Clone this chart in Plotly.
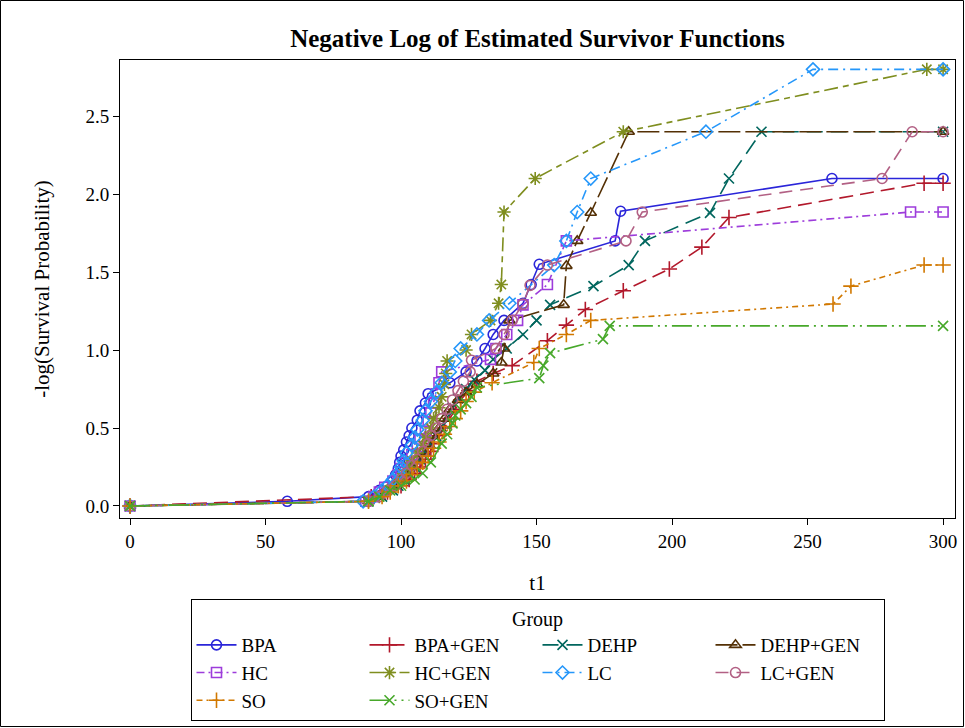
import plotly.graph_objects as go

groups = ["BPA", "BPA+GEN", "DEHP", "DEHP+GEN", "HC", "HC+GEN", "LC", "LC+GEN", "SO", "SO+GEN"]

t_bpa = [0, 58, 88, 92, 95, 97, 98, 99, 99.5, 100, 101, 102, 103, 104, 106, 107, 109, 110, 118, 124, 128, 131, 134, 138, 145, 148, 151, 179, 181, 259, 300]
v_bpa = [0, 0.03, 0.06, 0.10, 0.13, 0.16, 0.20, 0.24, 0.28, 0.32, 0.36, 0.41, 0.45, 0.50, 0.55, 0.61, 0.66, 0.72, 0.79, 0.86, 0.93, 1.01, 1.10, 1.19, 1.30, 1.42, 1.55, 1.70, 1.89, 2.10, 2.10]

t_bpagen = [0, 89, 95, 100, 103, 105, 107, 109, 111, 112, 114, 116, 118, 120, 122, 125, 128, 134, 141, 154, 161, 168, 182, 199, 211, 221, 293, 300]
v_bpagen = [0, 0.06, 0.09, 0.13, 0.17, 0.21, 0.25, 0.30, 0.35, 0.40, 0.45, 0.50, 0.56, 0.62, 0.68, 0.74, 0.80, 0.85, 0.90, 1.06, 1.16, 1.26, 1.38, 1.52, 1.66, 1.85, 2.07, 2.07]

t_dehp = [0, 88, 93, 97, 99, 101, 103, 105, 107, 109, 111, 113, 115, 117, 119, 121, 124, 127, 131, 134, 139, 145, 150, 155, 171, 184, 190, 214, 221, 233, 300]
v_dehp = [0, 0.03, 0.06, 0.10, 0.13, 0.17, 0.21, 0.25, 0.30, 0.35, 0.40, 0.45, 0.51, 0.57, 0.63, 0.69, 0.75, 0.81, 0.87, 0.94, 1.01, 1.10, 1.19, 1.29, 1.41, 1.545, 1.70, 1.88, 2.10, 2.40, 2.40]

t_dehpgen = [0, 88, 92, 95, 98, 100, 102, 104, 106, 108, 110, 112, 114, 116, 118, 121, 124, 128, 134, 137, 138, 140, 160, 161, 165, 170, 184, 300]
v_dehpgen = [0, 0.03, 0.06, 0.10, 0.13, 0.17, 0.21, 0.25, 0.30, 0.35, 0.40, 0.45, 0.50, 0.56, 0.62, 0.68, 0.73, 0.78, 0.85, 0.92, 1.01, 1.19, 1.29, 1.54, 1.70, 1.88, 2.40, 2.40]

t_hc = [0, 87, 90, 92, 94, 97, 99, 100, 102, 104, 106, 107, 109, 110, 111, 112, 113, 114, 115, 133, 135, 139, 143, 145, 154, 161, 288, 300]
v_hc = [0, 0.03, 0.06, 0.09, 0.12, 0.16, 0.20, 0.24, 0.28, 0.33, 0.38, 0.43, 0.48, 0.54, 0.60, 0.66, 0.72, 0.79, 0.86, 0.94, 1.01, 1.10, 1.19, 1.29, 1.42, 1.70, 1.885, 1.885]

t_hcgen = [0, 88, 92, 95, 97, 99, 101, 103, 104, 106, 108, 109, 111, 112, 114, 115, 116, 116.5, 117, 124, 126, 133, 136, 137, 138, 149.5, 182, 294, 300]
v_hcgen = [0, 0.03, 0.06, 0.10, 0.13, 0.17, 0.21, 0.25, 0.29, 0.34, 0.39, 0.44, 0.50, 0.56, 0.63, 0.70, 0.78, 0.85, 0.93, 1.00, 1.10, 1.19, 1.30, 1.42, 1.885, 2.10, 2.40, 2.80, 2.80]

t_lc = [0, 86, 90, 93, 95, 97, 99, 100, 101, 102, 104, 105, 106, 108, 109, 111, 113, 115, 118, 120, 122, 128, 132.5, 140, 156.5, 161, 165, 170, 212.5, 252, 300]
v_lc = [0, 0.03, 0.06, 0.10, 0.13, 0.17, 0.21, 0.25, 0.29, 0.34, 0.39, 0.44, 0.49, 0.55, 0.61, 0.67, 0.73, 0.79, 0.86, 0.93, 1.01, 1.10, 1.19, 1.30, 1.545, 1.70, 1.885, 2.10, 2.40, 2.80, 2.80]

t_lcgen = [0, 88, 92, 95, 98, 100, 102, 104, 106, 108, 110, 111, 113, 115, 117, 119, 121, 123, 125.5, 126, 135, 138, 141, 145, 147.6, 154, 183, 189, 277.5, 288.6, 300]
v_lcgen = [0, 0.03, 0.06, 0.10, 0.13, 0.17, 0.21, 0.26, 0.30, 0.35, 0.40, 0.45, 0.50, 0.56, 0.62, 0.68, 0.74, 0.80, 0.86, 0.935, 1.01, 1.10, 1.19, 1.295, 1.415, 1.545, 1.70, 1.885, 2.10, 2.40, 2.40]

t_so = [0, 88, 93, 96, 99, 102, 104, 106, 108, 110, 112, 114, 116, 118, 120, 122, 124, 127, 133.6, 149, 151, 161, 170, 259.4, 266, 293, 300]
v_so = [0, 0.03, 0.06, 0.09, 0.13, 0.16, 0.20, 0.24, 0.28, 0.32, 0.37, 0.41, 0.46, 0.51, 0.56, 0.61, 0.67, 0.73, 0.79, 0.92, 1.01, 1.10, 1.19, 1.295, 1.41, 1.545, 1.545]

t_sogen = [0, 88, 92, 96, 100, 105, 108, 111, 115, 117, 119, 120, 122, 124, 126, 128, 151, 152.5, 155, 174.5, 177, 300]
v_sogen = [0, 0.03, 0.06, 0.10, 0.13, 0.17, 0.21, 0.28, 0.40, 0.46, 0.53, 0.58, 0.62, 0.66, 0.70, 0.76, 0.82, 0.90, 0.98, 1.07, 1.155, 1.155]

x_ticks = [0, 50, 100, 150, 200, 250, 300]
y_ticks = [0.0, 0.5, 1.0, 1.5, 2.0, 2.5]

series = [
    (t_bpa, v_bpa), (t_bpagen, v_bpagen), (t_dehp, v_dehp), (t_dehpgen, v_dehpgen),
    (t_hc, v_hc), (t_hcgen, v_hcgen), (t_lc, v_lc), (t_lcgen, v_lcgen),
    (t_so, v_so), (t_sogen, v_sogen),
]

colors = ["#2A25D9", "#B2182B", "#01665E", "#543005", "#9D3CDB",
          "#7F8E1F", "#2597FA", "#B26084", "#D17800", "#47A82A"]
symbols = ["circle-open", "cross-thin-open", "x-thin-open", "triangle-up-open", "square-open",
           "asterisk-open", "diamond-open", "circle-open", "cross-thin-open", "x-thin-open"]
dashes = ["solid", "14px,7px", "16px,8px", "22px,5px", "8px,4px,2px,4px",
          "14px,5px,6px,5px", "10px,5px,2px,5px", "13px,8px", "6px,4px,2px,4px",
          "20px,5px,2px,5px,2px,5px"]
sizes = [10, 11, 10, 10, 10, 11, 10, 10, 11, 10]

FONT = "Liberation Serif, Times New Roman, serif"

fig = go.Figure()
for name, (t, v), c, s, d, sz in zip(groups, series, colors, symbols, dashes, sizes):
    fig.add_trace(go.Scatter(
        x=t, y=v, name=name, mode="lines+markers",
        line=dict(color=c, width=1.6, dash=d),
        marker=dict(symbol=s, size=sz, color=c, line=dict(color=c, width=1.6)),
    ))

W, H = 965, 728
ml, mr, mt, mb = 120, 10, 60, 210
pw, ph = W - ml - mr, H - mt - mb

fig.update_layout(
    width=W, height=H,
    margin=dict(l=ml, r=mr, t=mt, b=mb, autoexpand=False),
    paper_bgcolor="white", plot_bgcolor="white",
    font=dict(family=FONT, size=18, color="black"),
    title=dict(text="<b>Negative Log of Estimated Survivor Functions</b>",
               x=0.5, xref="paper", xanchor="center",
               y=1 - 38 / H, yref="container", yanchor="middle",
               font=dict(family=FONT, size=25, color="black")),
    xaxis=dict(range=[-3.7, 304.4], tickvals=x_ticks, ticktext=[str(v) for v in x_ticks],
               showgrid=False, zeroline=False, showline=True, mirror=True,
               linecolor="black", linewidth=1, ticks="outside", ticklen=6,
               tickcolor="black", tickfont=dict(size=19),
               title=dict(text="t1", font=dict(size=21), standoff=24)),
    yaxis=dict(range=[-0.077, 2.86], tickvals=y_ticks, ticktext=["%.1f" % v for v in y_ticks],
               showgrid=False, zeroline=False, showline=True, mirror=True,
               linecolor="black", linewidth=1, ticks="outside", ticklen=6,
               tickcolor="black", tickfont=dict(size=19),
               title=dict(text="-log(Survival Probability)", font=dict(size=21), standoff=30)),
    legend=dict(
        orientation="h", x=0.5, xanchor="center", xref="paper",
        y=(ph - (599 - mt)) / ph, yanchor="top", yref="paper",
        bordercolor="black", borderwidth=1, bgcolor="white",
        font=dict(family=FONT, size=19, color="black"),
        title=dict(text="Group", side="top center", font=dict(family=FONT, size=20)),
        entrywidth=118, entrywidthmode="pixels",
        itemwidth=40, tracegroupgap=0,
    ),
    shapes=[dict(type="rect", xref="paper", yref="paper",
                 x0=(0.5 - ml) / pw, x1=(W - 1.5 - ml) / pw,
                 y0=-(mb - 1.5) / ph, y1=(ph + mt - 0.5) / ph,
                 line=dict(color="black", width=1), fillcolor="rgba(0,0,0,0)", layer="below")],
)

fig.write_html("out.html")
